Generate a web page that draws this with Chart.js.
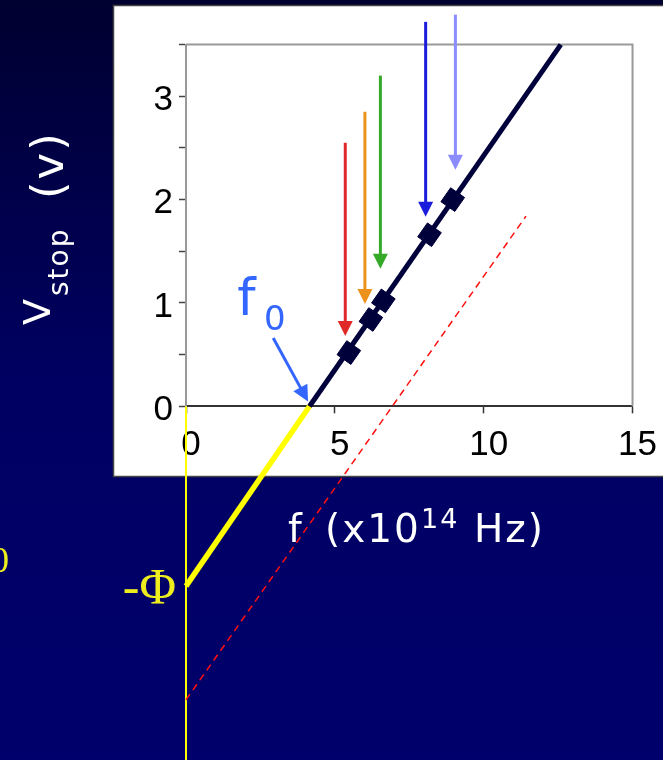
<!DOCTYPE html>
<html>
<head>
<meta charset="utf-8">
<script src="https://cdn.jsdelivr.net/npm/chart.js@4/dist/chart.umd.min.js"></script>
<style>
  html, body { margin: 0; padding: 0; background: #000050; overflow: hidden; }
  canvas { display: block; }
</style>
</head>
<body>
<canvas id="chart" width="663" height="760"></canvas>
<script>
// measured stopping voltages (f in 10^14 Hz, V in volts)
const freq = [5.47, 6.21, 6.63, 8.18, 8.96];
const vstop = [0.52, 0.84, 1.02, 1.66, 2.0];

// fitted line, its extension to -phi and the shifted (dashed) line
const fitX = [4.15, 12.59];
const fitY = [0, 3.5];
const extX = [0, 4.15];
const extY = [-1.74, 0];
const shiftX = [0, 11.42];
const shiftY = [-2.84, 1.84];
const vertX = [0, 0];
const vertY = [0, -3.6];

// incoming light arrows
const arrowX = [5.35, 6.01, 6.53, 8.05, 9.05];
const arrowTop = [2.55, 2.85, 3.2, 3.72, 3.79];
const arrowTip = [0.68, 0.99, 1.33, 1.835, 2.29];
const arrowColors = ["#e02828", "#ec921c", "#34aa28", "#1c1cdc", "#8c8cff"];

// f0 pointer
const f0Tail = [2.93, 0.66];
const f0Tip = [4.1, 0.046];

const xTickLabels = [0, 5, 10, 15];
const yTickLabels = [0, 1, 2, 3];

const pts = (xs, ys) => xs.map((x, i) => ({ x: x, y: ys[i] }));

function drawArrow(ctx, x1, y1, x2, y2, color, w, hl, hw) {
  const a = Math.atan2(y2 - y1, x2 - x1);
  const bx = x2 - Math.cos(a) * hl;
  const by = y2 - Math.sin(a) * hl;
  ctx.strokeStyle = color;
  ctx.lineWidth = w;
  ctx.beginPath();
  ctx.moveTo(x1, y1);
  ctx.lineTo(bx + Math.cos(a), by + Math.sin(a));
  ctx.stroke();
  ctx.fillStyle = color;
  ctx.beginPath();
  ctx.moveTo(x2, y2);
  ctx.lineTo(bx + Math.sin(a) * hw, by - Math.cos(a) * hw);
  ctx.lineTo(bx - Math.sin(a) * hw, by + Math.cos(a) * hw);
  ctx.closePath();
  ctx.fill();
}

const hand = '"DejaVu Sans", sans-serif';

const decor = {
  id: "decor",
  beforeDraw(chart) {
    const ctx = chart.ctx;
    const g = ctx.createLinearGradient(0, 0, 0, 760);
    g.addColorStop(0, "#000030");
    g.addColorStop(0.5, "#000062");
    g.addColorStop(1, "#00006c");
    ctx.save();
    ctx.fillStyle = g;
    ctx.fillRect(0, 0, 663, 760);
    ctx.fillStyle = "#ffffff";
    ctx.fillRect(113, 5, 560, 472);
    ctx.strokeStyle = "#444";
    ctx.lineWidth = 1.5;
    ctx.strokeRect(113.5, 5.5, 560, 471);
    ctx.restore();
  },
  beforeDatasetsDraw(chart) {
    const ctx = chart.ctx;
    const xs = chart.scales.x, ys = chart.scales.y;
    const { left, right, top, bottom } = chart.chartArea;
    ctx.save();
    // top and right frame
    ctx.strokeStyle = "#999";
    ctx.lineWidth = 2;
    ctx.beginPath();
    ctx.moveTo(left, top);
    ctx.lineTo(right, top);
    ctx.lineTo(right, bottom);
    ctx.stroke();

    // light arrows
    arrowX.forEach((f, i) => {
      const px = xs.getPixelForValue(f);
      drawArrow(ctx, px, ys.getPixelForValue(arrowTop[i]), px, ys.getPixelForValue(arrowTip[i]),
        arrowColors[i], 3, 15, 7.5);
    });

    // f0 label and pointer
    ctx.fillStyle = "#3366ff";
    ctx.textBaseline = "alphabetic";
    ctx.textAlign = "left";
    ctx.font = "52px " + hand;
    ctx.fillText("f", xs.getPixelForValue(1.72), ys.getPixelForValue(0.884));
    ctx.font = "34px " + hand;
    ctx.fillText("0", xs.getPixelForValue(2.62), ys.getPixelForValue(0.74));
    drawArrow(ctx, xs.getPixelForValue(f0Tail[0]), ys.getPixelForValue(f0Tail[1]),
      xs.getPixelForValue(f0Tip[0]), ys.getPixelForValue(f0Tip[1]), "#3366ff", 3, 16, 8);

    // axis titles
    ctx.fillStyle = "#ffffff";
    ctx.letterSpacing = "2px";
    ctx.font = "39px " + hand;
    ctx.fillText("f", 288, 542);
    ctx.fillText("(x10", 325, 542);
    ctx.font = "27px " + hand;
    ctx.fillText("14", 421, 528);
    ctx.font = "39px " + hand;
    ctx.fillText("Hz)", 474, 542);

    ctx.save();
    ctx.rotate(-Math.PI / 2);
    ctx.font = "38px " + hand;
    ctx.fillText("V", -325, 50);
    ctx.font = "28px " + hand;
    ctx.fillText("stop", -296, 68);
    ctx.font = "45px " + hand;
    ctx.fillText("(v)", -199, 63);
    ctx.restore();
    ctx.letterSpacing = "0px";

    // -phi and the cut off label at the left edge
    ctx.fillStyle = "#eeee1e";
    ctx.textAlign = "right";
    ctx.font = "50px 'Liberation Serif', 'Times New Roman', serif";
    ctx.fillText("-\u03A6", 176, 603);
    ctx.font = "36px 'Liberation Serif', 'Times New Roman', serif";
    ctx.fillText("0", 9, 572);
    ctx.restore();
  }
};

const data = {
  datasets: [
    {
      label: "measured",
      data: pts(freq, vstop),
      showLine: false,
      pointStyle: "rect",
      pointRotation: 35,
      pointRadius: 12,
      pointHoverRadius: 12,
      backgroundColor: "#00003a",
      borderColor: "#00003a",
      borderWidth: 1,
      order: 0,
      clip: false,
    },
    {
      label: "fit",
      data: pts(fitX, fitY),
      showLine: true,
      borderColor: "#00003a",
      borderWidth: 5,
      pointRadius: 0,
      order: 1,
      clip: false,
    },
    {
      label: "extension",
      data: pts(extX, extY),
      showLine: true,
      borderColor: "#ffff00",
      borderWidth: 5.5,
      pointRadius: 0,
      order: 2,
      clip: false,
    },
    {
      label: "shifted",
      data: pts(shiftX, shiftY),
      showLine: true,
      borderColor: "#ff1010",
      borderWidth: 1.5,
      borderDash: [7, 5],
      pointRadius: 0,
      order: 3,
      clip: false,
    },
    {
      label: "axis",
      data: pts(vertX, vertY),
      showLine: true,
      borderColor: "#ffff00",
      borderWidth: 2,
      pointRadius: 0,
      order: 4,
      clip: false,
    },
  ],
};

const config = {
  type: "scatter",
  data: data,
  plugins: [decor],
  options: {
    responsive: false,
    animation: false,
    devicePixelRatio: 1,
    layout: { padding: { left: 126, right: 29.7, top: 44.6, bottom: 293.7 } },
    plugins: { legend: { display: false }, tooltip: { enabled: false } },
    scales: {
      x: {
        type: "linear",
        min: 0,
        max: 15,
        afterFit: (s) => { s.height = 60; },
        border: { color: "#333", width: 2 },
        grid: { drawOnChartArea: false, drawTicks: true, tickLength: 7, tickColor: "#333", tickWidth: 1.5 },
        ticks: {
          stepSize: 5,
          autoSkip: false,
          maxRotation: 0,
          padding: 11,
          labelOffset: 5,
          color: "#000",
          font: { family: "'Liberation Sans', Arial, sans-serif", size: 35 },
          callback: (v) => (xTickLabels.includes(v) ? String(v) : ""),
        },
      },
      y: {
        type: "linear",
        min: 0,
        max: 3.5,
        afterFit: (s) => { s.width = 60; },
        border: { color: "#999", width: 2 },
        grid: { drawOnChartArea: false, drawTicks: true, tickLength: 7, tickColor: "#444", tickWidth: 1.5 },
        ticks: {
          stepSize: 0.5,
          autoSkip: false,
          padding: 6,
          labelOffset: 4,
          color: "#000",
          font: { family: "'Liberation Sans', Arial, sans-serif", size: 35 },
          callback: (v) => (yTickLabels.includes(v) ? String(v) : ""),
        },
      },
    },
  },
};

const myChart = new Chart(document.getElementById("chart"), config);
</script>
</body>
</html>
